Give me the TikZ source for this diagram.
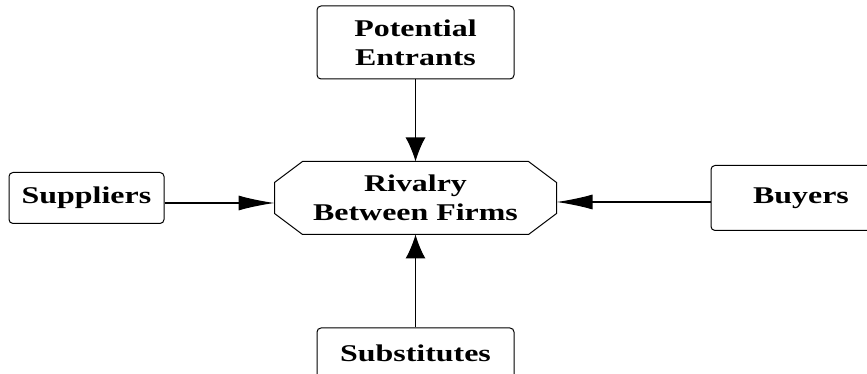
\documentclass[tikz,border=0pt]{standalone}
\usepackage{fontspec}
\newfontfamily\boxfont{Liberation Serif}[FakeStretch=1.33]
\usetikzlibrary{arrows.meta,positioning}

\begin{document}
\begin{tikzpicture}[
x = 1pt, y = 1pt,
> = {Latex[length=24pt,width=20pt]}, % arrow head style
line width = 1.2pt % line style
]

\useasboundingbox (0,0) rectangle (867,374);

\tikzstyle{force}=[
draw = black,
line width = 1pt,
rounded corners = 4pt,
fill = white,
align = center,
font = \boxfont\bfseries\fontsize{24}{29}\selectfont
]
\tikzstyle{wide}=[-{Latex[length=36pt,width=15pt]}]

\node[force, draw=none, fill=none, minimum width=281pt, minimum height=72pt] (rival) at (415.5,176) {Rivalry\\Between Firms};
\node[force, minimum width=197pt, minimum height=73pt] (entrants) [above=82pt of rival] {Potential\\Entrants};
\node[force, minimum width=155pt, minimum height=51pt] (suppliers) [left=110pt of rival] {Suppliers};
\node[force, minimum width=180pt, minimum height=65pt] (buyers) [right=154pt of rival] {Buyers};
\node[force, minimum width=197pt, minimum height=51pt] (subs) [below=93pt of rival] {Substitutes};

% octagon round the rivalry node
\draw[line width=1pt] ([xshift=28pt]rival.north west) -- ([xshift=-28pt]rival.north east)
  -- ([yshift=-21pt]rival.north east) -- ([yshift=21pt]rival.south east)
  -- ([xshift=-28pt]rival.south east) -- ([xshift=28pt]rival.south west)
  -- ([yshift=21pt]rival.south west) -- ([yshift=-21pt]rival.north west) -- cycle;

\draw[->] (entrants) -- (rival);
\draw[->] (subs) -- (rival);

\draw[wide] ([yshift=-5pt]suppliers.east) -- ([yshift=-5pt]rival.west);
\draw[wide] ([yshift=-4pt]buyers.west) -- ([yshift=-4pt]rival.east);

\end{tikzpicture}
\end{document}
